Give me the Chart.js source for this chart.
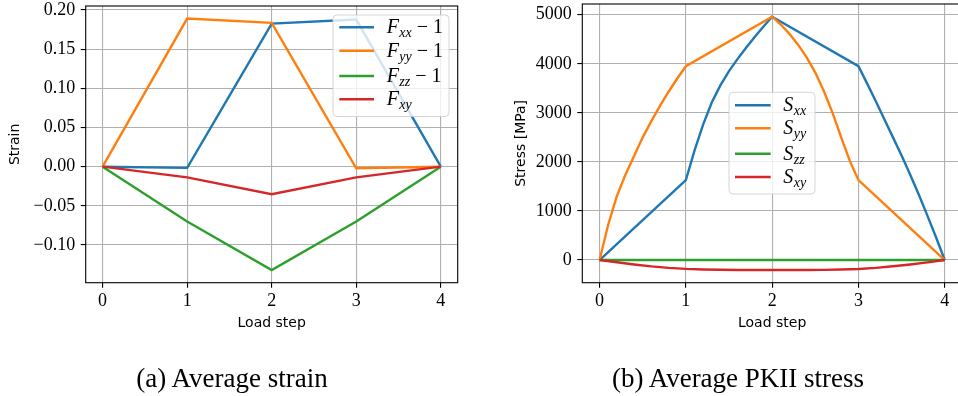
<!DOCTYPE html>
<html>
<head>
<meta charset="utf-8">
<script src="https://cdn.jsdelivr.net/npm/chart.js@4.4.1/dist/chart.umd.min.js"></script>
<style>
  html, body { margin: 0; padding: 0; overflow: hidden; background: #fff; }
  #fig { position: relative; width: 958px; height: 396px; overflow: hidden; background: #fff; }
  canvas { position: absolute; top: 0; }
  .caption { position: absolute; font-family: "Liberation Serif", serif; font-size: 27px; color: #000;
             white-space: nowrap; transform: translate(-50%, -50%); }
</style>
</head>
<body>
<div id="fig">
  <canvas id="strain" width="480" height="396" style="left:0"></canvas>
  <canvas id="stress" width="482" height="396" style="left:480px"></canvas>
  <div class="caption" style="left:232px; top:378px">(a) Average strain</div>
  <div class="caption" style="left:738px; top:378px">(b) Average PKII stress</div>
</div>
<script>
// ---- Average strain per load step ----
const loadSteps = [0, 1, 2, 3, 4];
const strainFxx = [0, -0.0015, 0.1826, 0.1877, 0];
const strainFyy = [0, 0.189, 0.1835, -0.002, 0];
const strainFzz = [0, -0.070, -0.132, -0.070, 0];
const strainFxy = [0, -0.0136, -0.0352, -0.0136, 0];
const strainTicks = [-0.10, -0.05, 0.00, 0.05, 0.10, 0.15, 0.20];

// ---- Average PKII stress [MPa], sampled at the solver sub-steps ----
const sxxSteps  = [0, 1, 1.1, 1.2, 1.3, 1.4, 1.5, 1.6, 1.7, 1.8, 1.9, 2, 3, 3.1, 3.2, 3.3, 3.4, 3.5, 3.6, 3.7, 3.8, 3.9, 4];
const sxxValues = [0, 1630, 2230, 2760, 3210, 3560, 3850, 4100, 4330, 4550, 4760, 4960, 3950, 3600, 3240, 2870, 2500, 2130, 1740, 1330, 900, 460, 0];
const syySteps  = [0, 0.1, 0.2, 0.3, 0.4, 0.5, 0.6, 0.7, 0.8, 0.9, 1, 2, 2.1, 2.2, 2.3, 2.4, 2.5, 2.6, 2.7, 2.8, 2.9, 3, 4];
const syyValues = [0, 720, 1300, 1740, 2120, 2500, 2830, 3140, 3430, 3700, 3950, 4960, 4800, 4610, 4390, 4130, 3820, 3440, 3000, 2500, 2020, 1630, 0];
const szzSteps  = [0, 1, 2, 3, 4];
const szzValues = [0, 0, 0, 0, 0];
const sxySteps  = [0, 0.2, 0.4, 0.6, 0.8, 1, 1.2, 1.4, 1.6, 1.8, 2, 2.2, 2.4, 2.6, 2.8, 3, 3.2, 3.4, 3.6, 3.8, 4];
const sxyValues = [0, -45, -90, -130, -160, -180, -192, -199, -203, -204, -204, -204, -203, -200, -193, -182, -160, -128, -90, -47, 0];
const stressTicks = [0, 1000, 2000, 3000, 4000, 5000];

// legend entries: [symbol, subscript, tail]
const strainLegend = [['F', 'xx', '1'], ['F', 'yy', '1'], ['F', 'zz', '1'], ['F', 'xy', '']];
const stressLegend = [['S', 'xx', ''], ['S', 'yy', ''], ['S', 'zz', ''], ['S', 'xy', '']];

const COLORS = ['#1f77b4', '#ff7f0e', '#2ca02c', '#d62728'];
const SERIF = '"Liberation Serif", serif';
const SANS = '"DejaVu Sans", sans-serif';

const pairs = (xs, ys) => xs.map((x, i) => ({ x: x, y: ys[i] }));
const minus = s => s.replace('-', '\u2212');

// Full box around the plot area plus a legend with sub-scripted math labels
const framePlugin = {
  id: 'frameAndLegend',
  afterDatasetsDraw(chart, args, opts) {
    const { ctx, chartArea: a } = chart;
    ctx.save();
    ctx.strokeStyle = '#000';
    ctx.lineWidth = 1.1;
    ctx.strokeRect(a.left, a.top, a.right - a.left, a.bottom - a.top);

    const L = opts.legend;
    ctx.beginPath();
    ctx.roundRect(L.x, L.y, L.w, L.h, 4);
    ctx.fillStyle = 'rgba(255,255,255,0.8)';
    ctx.fill();
    ctx.strokeStyle = 'rgba(204,204,204,0.8)';
    ctx.lineWidth = 1;
    ctx.stroke();

    const size = L.fontSize;
    chart.data.datasets.forEach((ds, i) => {
      const y = L.rows[i];
      ctx.strokeStyle = ds.borderColor;
      ctx.lineWidth = ds.borderWidth;
      ctx.beginPath();
      ctx.moveTo(L.handle[0], y);
      ctx.lineTo(L.handle[1], y);
      ctx.stroke();

      const [sym, sub, tail] = L.labels[i];
      let x = L.textX;
      ctx.fillStyle = '#000';
      ctx.textBaseline = 'alphabetic';
      const base = y + size * 0.3;
      ctx.font = `italic ${size}px ${SERIF}`;
      ctx.fillText(sym, x, base);
      x += ctx.measureText(sym).width + size * 0.02;
      ctx.font = `italic ${Math.round(size * 0.72)}px ${SERIF}`;
      ctx.fillText(sub, x, base + size * 0.2);
      x += ctx.measureText(sub).width;
      if (tail) {
        ctx.font = `${size}px ${SERIF}`;
        x += size * 0.25;
        ctx.fillText('\u2212', x, base);
        x += ctx.measureText('\u2212').width + size * 0.25;
        ctx.fillText(tail, x, base);
      }
    });
    ctx.restore();
  }
};

function makeScales(cfg) {
  return {
    x: {
      type: 'linear', min: -0.2, max: 4.2,
      afterBuildTicks: s => { s.ticks = loadSteps.map(v => ({ value: v })); },
      ticks: { color: '#000', font: { family: SERIF, size: 18 }, padding: 3, callback: v => String(v) },
      grid: { color: '#b0b0b0', lineWidth: 1.1, tickColor: '#000', tickLength: 5 },
      border: { display: false },
      title: { display: true, text: 'Load step', color: '#000', font: { family: SANS, size: 14 },
               padding: { top: 0, bottom: 64.6 } },
      afterFit: s => { s.height = 113.3; s.paddingLeft = 0; s.paddingRight = 0; }
    },
    y: {
      type: 'linear', min: cfg.yMin, max: cfg.yMax,
      afterBuildTicks: s => { s.ticks = cfg.yTicks.map(v => ({ value: v })); },
      ticks: { color: '#000', font: { family: SERIF, size: 18 }, padding: 5.5, callback: cfg.fmt },
      grid: { color: '#b0b0b0', lineWidth: 1.1, tickColor: '#000', tickLength: 5 },
      border: { display: false },
      title: { display: true, text: cfg.yTitle, color: '#000', font: { family: SANS, size: 14 },
               padding: { top: cfg.yTitlePad, bottom: 0 } },
      afterFit: s => { s.width = cfg.yWidth; s.paddingTop = 0; s.paddingBottom = 0; }
    }
  };
}

function makeDatasets(series) {
  return series.map((pts, i) => ({
    data: pts, borderColor: COLORS[i], backgroundColor: COLORS[i],
    borderWidth: 2.4, pointRadius: 0, tension: 0, fill: false, order: series.length - i
  }));
}

Chart.defaults.animation = false;

new Chart(document.getElementById('strain'), {
  type: 'line',
  data: { datasets: makeDatasets([
    pairs(loadSteps, strainFxx), pairs(loadSteps, strainFyy),
    pairs(loadSteps, strainFzz), pairs(loadSteps, strainFxy)]) },
  options: {
    responsive: false, devicePixelRatio: 1,
    layout: { padding: { left: 0, top: 6, right: 22.3, bottom: 0 } },
    scales: makeScales({ yMin: -0.14805, yMax: 0.20505, yTicks: strainTicks, yTitle: 'Strain',
                         yTitlePad: 6.6, yWidth: 85.7, fmt: v => minus(v.toFixed(2)) }),
    plugins: {
      legend: { display: false }, tooltip: { enabled: false },
      frameAndLegend: { legend: { x: 333, y: 15, w: 116, h: 101.5, rows: [27.3, 50.7, 76, 99.3],
                                  handle: [339.3, 374], textX: 386.7, fontSize: 20, labels: strainLegend } }
    }
  },
  plugins: [framePlugin]
});

new Chart(document.getElementById('stress'), {
  type: 'line',
  data: { datasets: makeDatasets([
    pairs(sxxSteps, sxxValues), pairs(syySteps, syyValues),
    pairs(szzSteps, szzValues), pairs(sxySteps, sxyValues)]) },
  options: {
    responsive: false, devicePixelRatio: 1,
    layout: { padding: { left: 0, top: 4, right: 0, bottom: 0 } },
    scales: makeScales({ yMin: -462.2, yMax: 5218.2, yTicks: stressTicks, yTitle: 'Stress [MPa]',
                         yTitlePad: 33.3, yWidth: 102.3, fmt: v => minus(String(v)) }),
    plugins: {
      legend: { display: false }, tooltip: { enabled: false },
      frameAndLegend: { legend: { x: 249, y: 92.3, w: 86, h: 101.7, rows: [105.3, 128.3, 153.7, 177],
                                  handle: [255, 290.7], textX: 303.3, fontSize: 20, labels: stressLegend } }
    }
  },
  plugins: [framePlugin]
});
</script>
</body>
</html>
